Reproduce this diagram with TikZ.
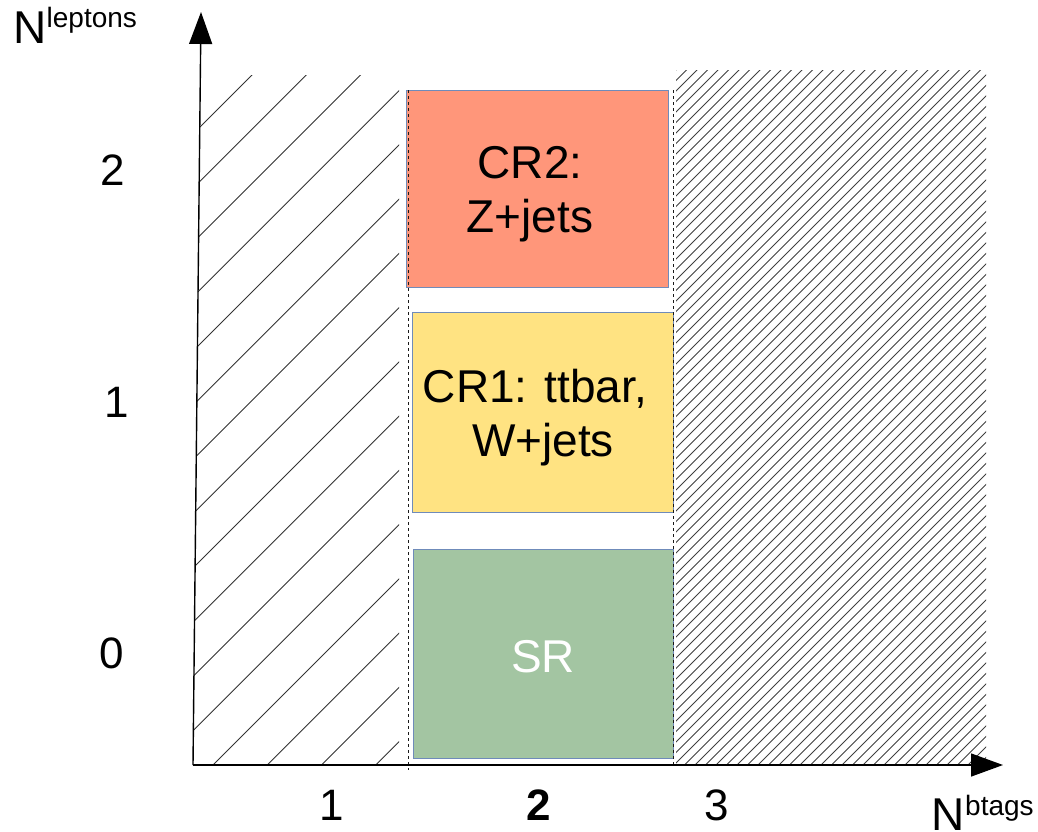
\documentclass[tikz,border=0pt]{standalone}
\usepackage{fontspec}
\setmainfont{Liberation Sans}
\usetikzlibrary{arrows.meta}
\definecolor{cr2col}{HTML}{FF967A}
\definecolor{cr1col}{HTML}{FFE382}
\definecolor{srcol}{HTML}{A3C5A2}
\definecolor{edgecol}{HTML}{6F8BBA}
\begin{document}
\begin{tikzpicture}[x=1pt,y=-1pt,
  regionbox/.style={draw=edgecol, line width=1pt, inner sep=0pt, outer sep=0pt},
  boxtext/.style={font=\fontsize{46}{54}\selectfont, inner sep=0pt, anchor=base},
  axisnum/.style={font=\fontsize{44}{50}\selectfont, inner sep=0pt, anchor=base},
  biglet/.style={font=\fontsize{46}{50}\selectfont, inner sep=0pt, anchor=base west},
  suplet/.style={font=\fontsize{28}{30}\selectfont, inner sep=0pt, anchor=base west},
  hatchline/.style={line width=0.9pt, draw=black!80},
  finehatch/.style={line width=0.8pt, draw=black!75},
  divider/.style={dash pattern=on 3pt off 3pt, line width=0.9pt, draw=black!90},
  axisline/.style={line width=1.4pt, -{Triangle[length=32pt,width=23pt]}}]
\useasboundingbox (0,0) rectangle (1038,831);

% left hatched region
\begin{scope}
  \clip (193,765) -- (200,75) -- (399,75) -- (399,765) -- cycle;
  \foreach \k in {0,...,15}{
    \pgfmathsetmacro\c{327+54.25*\k}
    \draw[hatchline] (\c-800,800) -- (\c,0);
  }
\end{scope}

% right hatched region
\begin{scope}
  \clip (676,70) rectangle (986,765);
  \foreach \k in {0,...,96}{
    \pgfmathsetmacro\c{746+10.5*\k}
    \draw[finehatch] (\c-800,800) -- (\c,0);
  }
\end{scope}

% region boxes
\node[regionbox, fill=cr2col, minimum width=262pt, minimum height=197pt] (cr2) at (537,188.5) {};
\node[regionbox, fill=cr1col, minimum width=261pt, minimum height=200pt] (cr1) at (543,412) {};
\node[regionbox, fill=srcol, minimum width=260pt, minimum height=209pt] (sr) at (543,653.5) {};

\node[boxtext] (cr2a) at (530,178) {CR2:};
\node[boxtext] (cr2b) at (530,232) {Z+jets};
\node[boxtext] (cr1a) at (535,402) {CR1: ttbar,};
\node[boxtext] (cr1b) at (543,456) {W+jets};
\node[boxtext, text=white] (srt) at (543,672) {SR};

% dashed dividers
\coordinate (d1t) at (408,90);
\coordinate (d1b) at (408,770);
\coordinate (d2t) at (673,90);
\coordinate (d2b) at (673,765);
\draw[divider] (d1t) -- (d1b);
\draw[divider] (d2t) -- (d2b);

% axes
\coordinate (origin) at (193,765);
\coordinate (ytip) at (201,12);
\coordinate (xtip) at (1003,765);
\draw[axisline] (origin) -- (ytip);
\draw[axisline] (origin) -- (xtip);

% axis labels
\node[axisnum] (yl2) at (113,185) {2};
\node[axisnum] (yl1) at (117,417) {1};
\node[axisnum] (yl0) at (112,668) {0};
\node[axisnum] (xl1) at (332,820) {1};
\node[axisnum, font=\fontsize{44}{50}\selectfont\bfseries] (xl2) at (539,820) {2};
\node[axisnum] (xl3) at (717,820) {3};

\node[biglet] (nlep) at (13.5,43) {N};
\node[suplet] (lep) at (46.5,27) {leptons};
\node[biglet] (nbt) at (931.5,830) {N};
\node[suplet] (bt) at (965,815) {btags};
\end{tikzpicture}
\end{document}
